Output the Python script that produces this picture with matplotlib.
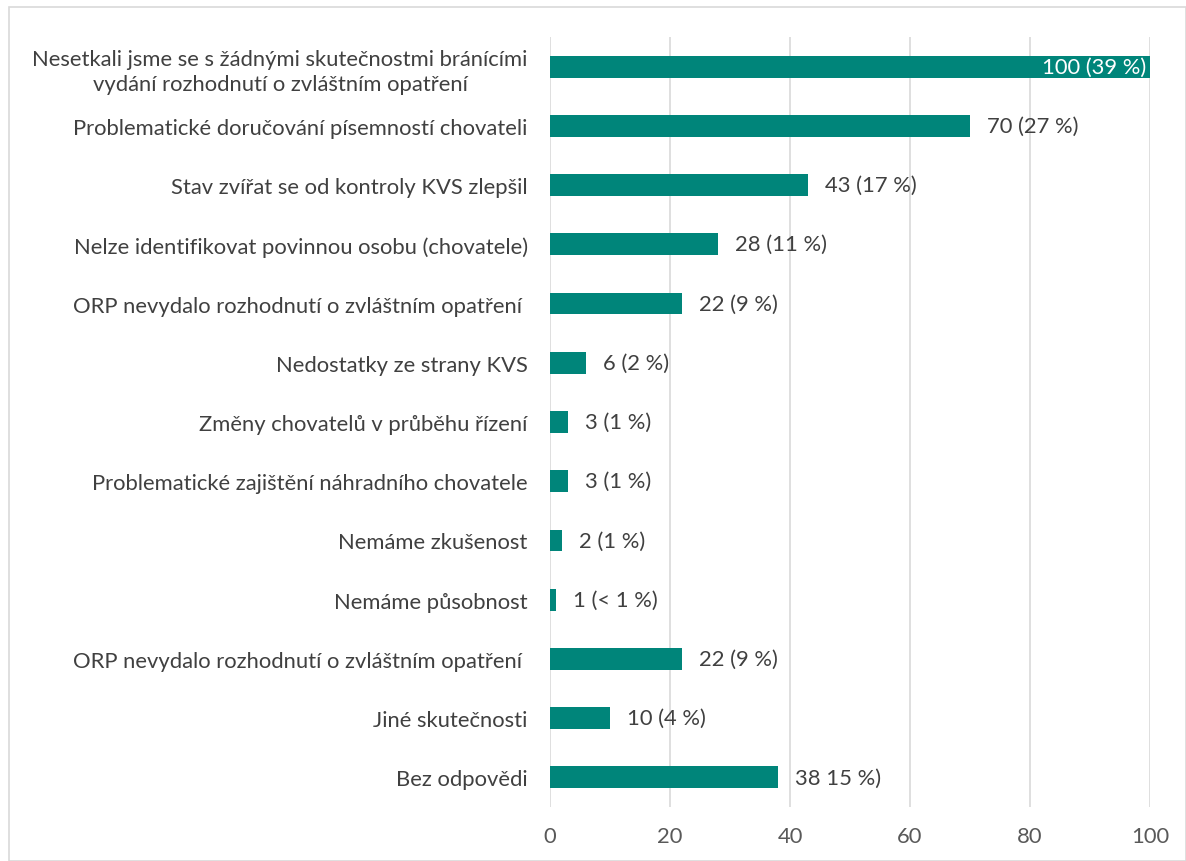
import matplotlib.pyplot as plt
import matplotlib.patches as mpatches

categories = [
    "Nesetkali jsme se s žádnými skutečnostmi bránícími\nvydání rozhodnutí o zvláštním opatření",
    "Problematické doručování písemností chovateli",
    "Stav zvířat se od kontroly KVS zlepšil",
    "Nelze identifikovat povinnou osobu (chovatele)",
    "ORP nevydalo rozhodnutí o zvláštním opatření ",
    "Nedostatky ze strany KVS",
    "Změny chovatelů v průběhu řízení",
    "Problematické zajištění náhradního chovatele",
    "Nemáme zkušenost",
    "Nemáme působnost",
    "ORP nevydalo rozhodnutí o zvláštním opatření ",
    "Jiné skutečnosti",
    "Bez odpovědi",
]
values = [100, 70, 43, 28, 22, 6, 3, 3, 2, 1, 22, 10, 38]
value_labels = ["100 (39 %)", "70 (27 %)", "43 (17 %)", "28 (11 %)", "22 (9 %)",
                "6 (2 %)", "3 (1 %)", "3 (1 %)", "2 (1 %)", "1 (< 1 %)",
                "22 (9 %)", "10 (4 %)", "38 15 %)"]
xticks = [0, 20, 40, 60, 80, 100]

plt.rcParams['font.family'] = ['Lato', 'DejaVu Sans']
text_col = "#404040"
bar_col = "#00857A"
fs = 15.8

fig = plt.figure(figsize=(11.86, 8.62), dpi=100)
ax = fig.add_axes([550 / 1186, 1 - 808 / 862, 600 / 1186, 770 / 862])

y = list(range(len(categories)))
ax.barh(y, values, height=0.37, color=bar_col, zorder=3)
ax.set_ylim(len(categories) - 0.5, -0.5)
ax.set_xlim(0, 100)
ax.set_xticks(xticks)
ax.set_xticklabels([str(t) for t in xticks], fontsize=fs, color="#595959")
ax.set_yticks(y)
ax.set_yticklabels(categories, fontsize=fs, color=text_col, ha="right")
for t in ax.get_yticklabels():
    t.set_multialignment("center")
    t.set_linespacing(1.35)
ax.tick_params(axis="both", length=0)
ax.tick_params(axis="y", pad=16)
ax.tick_params(axis="x", pad=14)
for s in ax.spines.values():
    s.set_visible(False)
ax.grid(axis="x", color="#D9D9D9", linewidth=1.2, zorder=0)

for i, (v, lab) in enumerate(zip(values, value_labels)):
    if i == 0:
        ax.annotate(lab, (v, i), xytext=(-3, 0), textcoords="offset points",
                    ha="right", va="center", fontsize=fs, color="white", zorder=4)
    else:
        ax.annotate(lab, (v, i), xytext=(12, 0), textcoords="offset points",
                    ha="left", va="center", fontsize=fs, color=text_col, zorder=4)

fig.patches.append(mpatches.Rectangle((9 / 1186, 0), 1 - 9 / 1186, 1 - 8 / 862,
                                      transform=fig.transFigure, fill=False,
                                      edgecolor="#D9D9D9", linewidth=1.2))

fig.savefig("out.png", dpi=100)
